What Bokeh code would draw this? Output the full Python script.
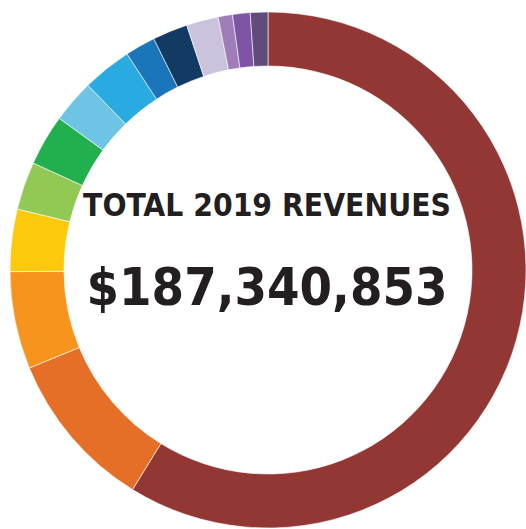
import math
from bokeh.plotting import figure
from bokeh.models import ColumnDataSource, Range1d
from bokeh.core.properties import value
from bokeh.embed import file_html
from bokeh.resources import INLINE

# Revenue shares (percent of total), clockwise from the top
categories = ["Cat 1", "Cat 2", "Cat 3", "Cat 4", "Cat 5", "Cat 6", "Cat 7",
              "Cat 8", "Cat 9", "Cat 10", "Cat 11", "Cat 12", "Cat 13", "Cat 14"]
shares = [58.8, 10.0, 6.1, 3.9, 3.0, 3.2, 2.7, 3.1, 1.9, 2.2, 2.0, 0.9, 1.1, 1.1]
colors = ["#933735", "#E56F26", "#F7941D", "#FDC90C", "#92C955", "#22B04E",
          "#6DC4E5", "#29ABE2", "#1B75BB", "#133A63", "#CBC2DD", "#A07DB9",
          "#7E54A4", "#604B7D"]
title_text = "TOTAL 2019 REVENUES"
total_text = "$187,340,853"

W, H = 526, 529
total = sum(shares)
starts, ends = [], []
cum = 0.0
for s in shares:
    a0 = cum / total * 2 * math.pi
    cum += s
    a1 = cum / total * 2 * math.pi
    starts.append(math.pi / 2 - a1)
    ends.append(math.pi / 2 - a0)

src = ColumnDataSource(dict(cat=categories, share=shares, color=colors,
                            start=starts, end=ends))

p = figure(width=W, height=H, output_backend="svg", toolbar_location=None,
           x_range=Range1d(0, W), y_range=Range1d(0, H), min_border=0)
p.axis.visible = False
p.grid.visible = False
p.outline_line_color = None
p.background_fill_color = "white"

cx, cy = 267.5, 259.5
p.annular_wedge(x=cx, y=cy, inner_radius=204, outer_radius=258,
                start_angle="start", end_angle="end", fill_color="color",
                line_color="white", line_width=0.6, source=src)

font = value("DejaVu Sans Condensed")
p.text(x=[cx - 1], y=[325], text=[title_text], text_font=font,
       text_font_style="bold", text_font_size="31.5px", text_align="center",
       text_baseline="alphabetic", text_color="#231F20")
p.text(x=[cx - 1], y=[243], text=[total_text], text_font=font,
       text_font_style="bold", text_font_size="52px", text_align="center",
       text_baseline="alphabetic", text_color="#231F20")

open("out.html", "w").write(file_html(p, INLINE))
